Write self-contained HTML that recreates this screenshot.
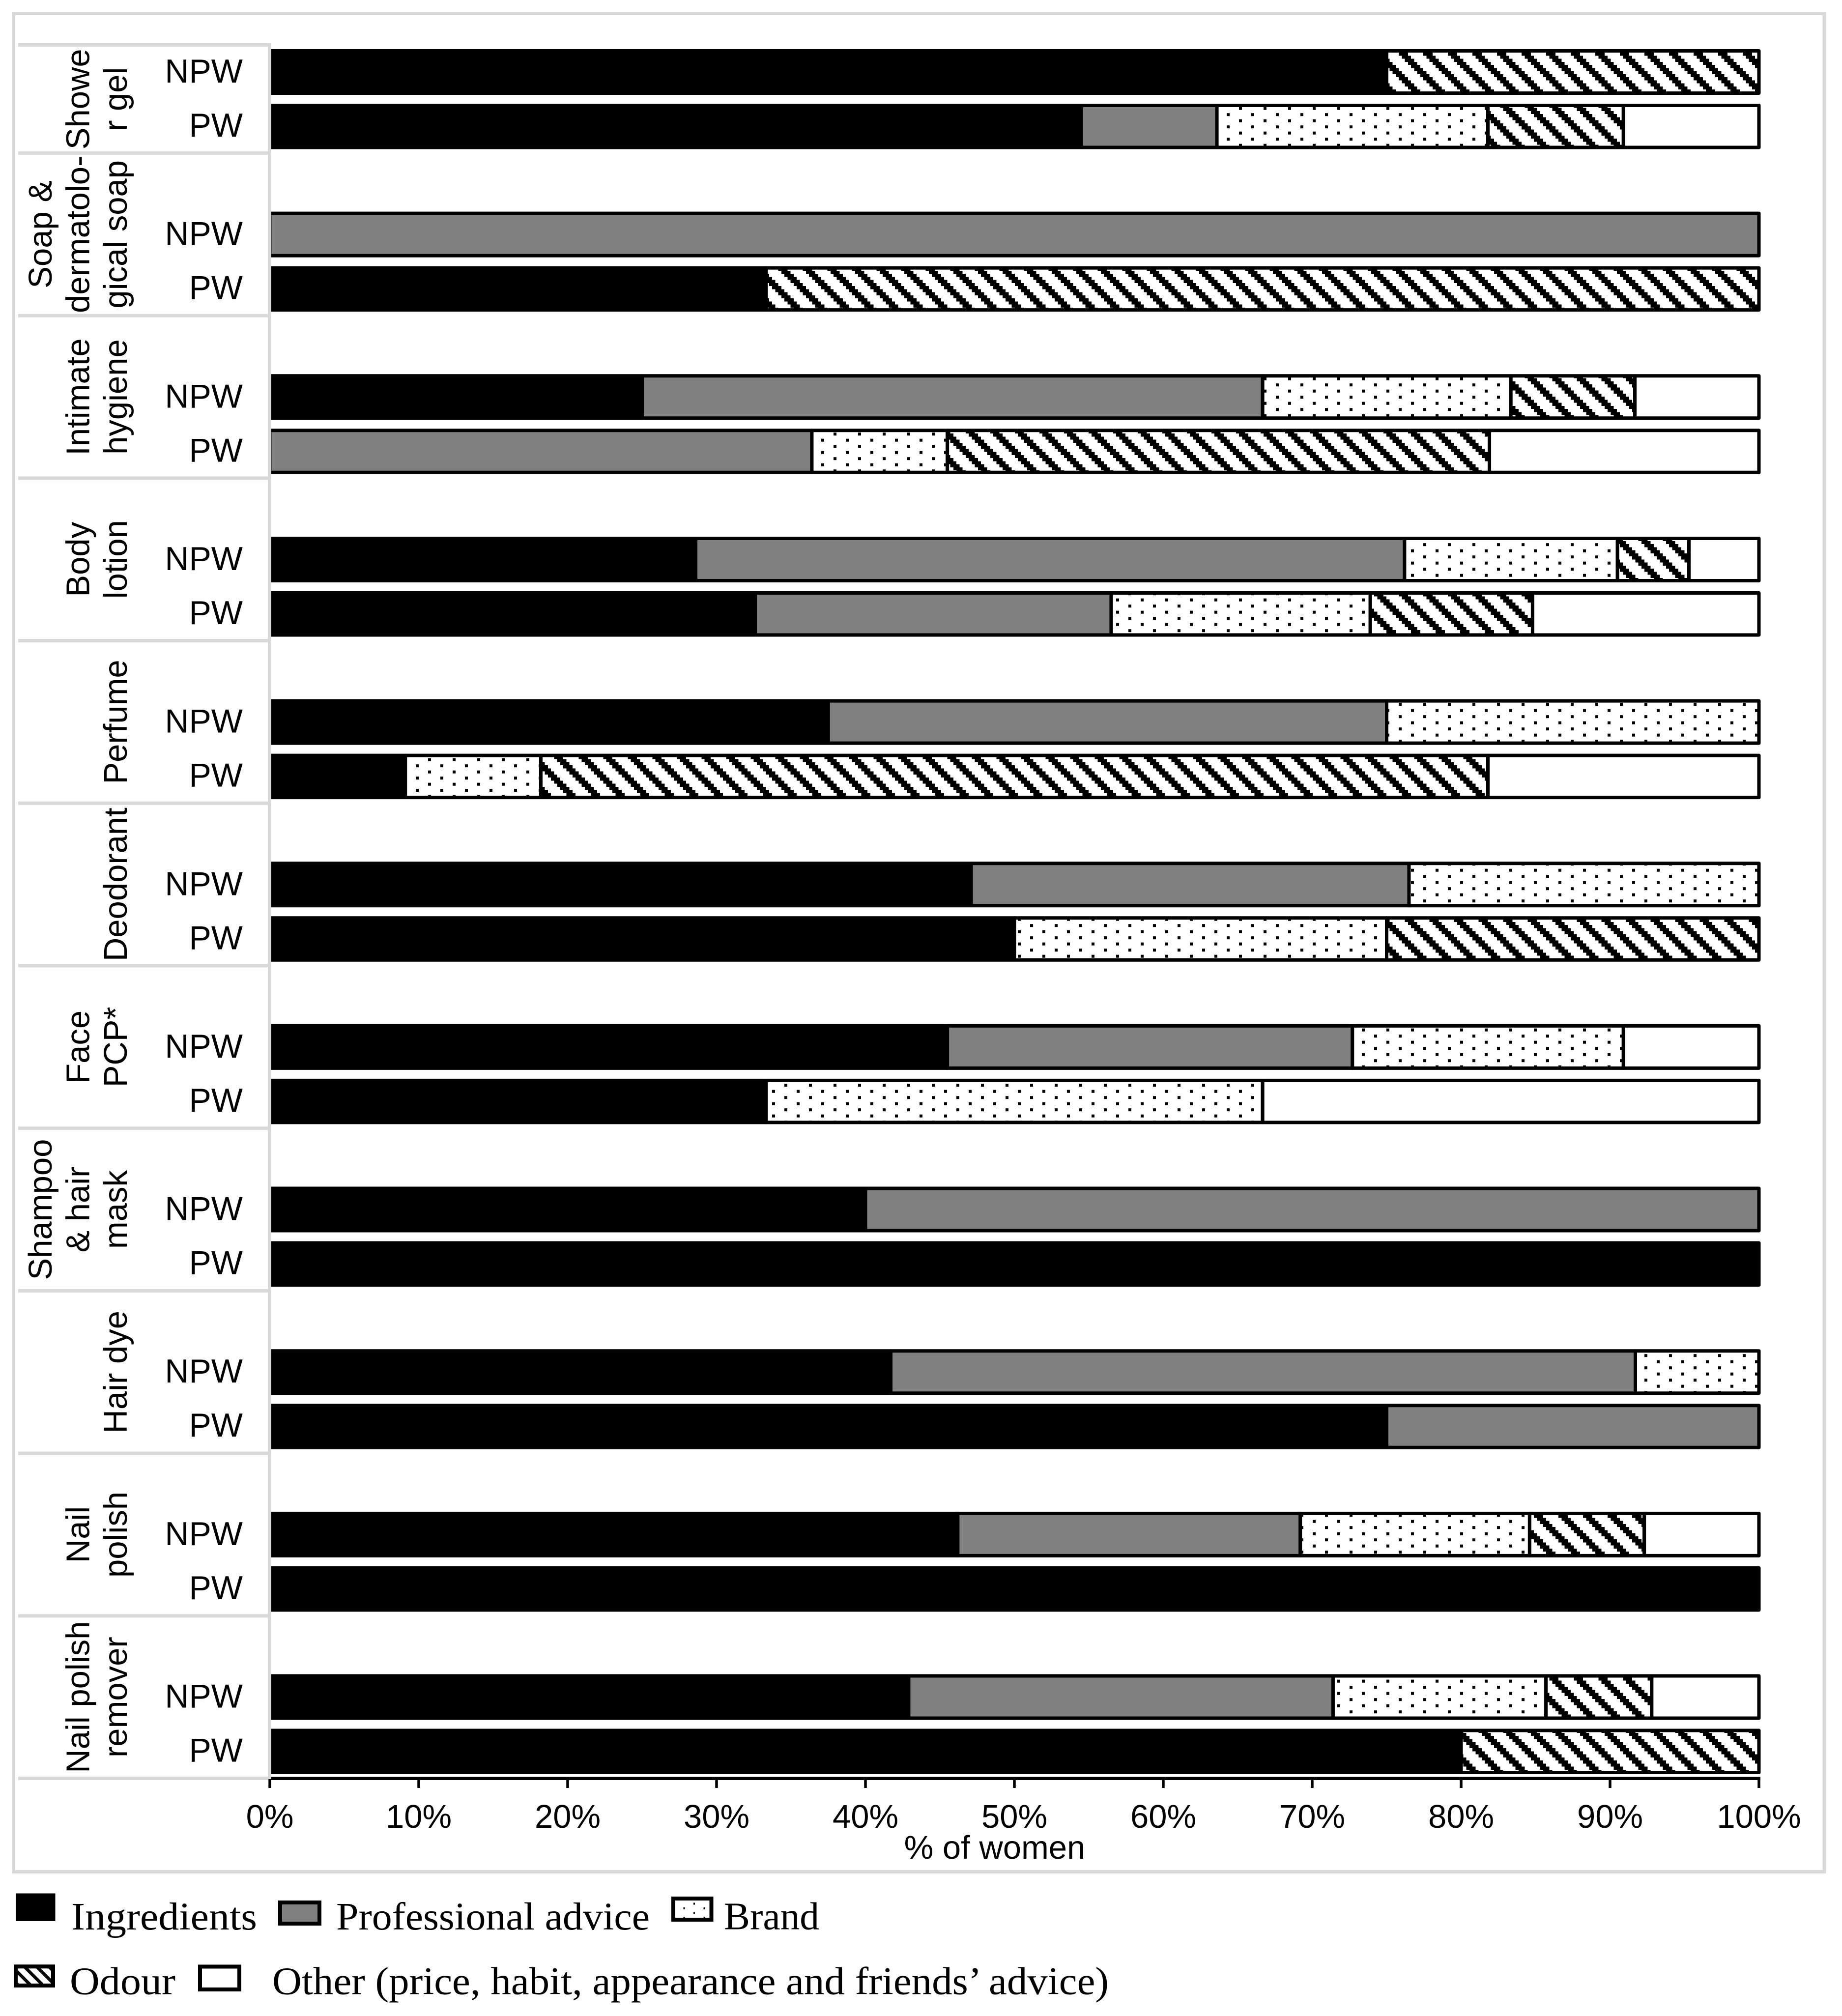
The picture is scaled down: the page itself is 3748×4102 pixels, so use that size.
<!DOCTYPE html>
<html lang="en">
<head>
<meta charset="utf-8">
<title>Purchase criteria by product category</title>
<style>
html,body{margin:0;padding:0;background:#fff;width:3748px;height:4102px;overflow:hidden}
svg{display:block}
.sans{font-family:"Liberation Sans",Arial,sans-serif;font-size:67px;fill:#000}
.group{font-size:68px}
.serif{font-family:"Liberation Serif","Times New Roman",serif;font-size:79px;fill:#000}
</style>
</head>
<body>
<svg id="chart" xmlns="http://www.w3.org/2000/svg" width="3748" height="4102" viewBox="0 0 3748 4102">
  <defs>
    <pattern id="hatch" patternUnits="userSpaceOnUse" width="50" height="50" patternTransform="translate(46 7)">
      <rect width="50" height="50" fill="#fff"/>
      <g fill="#000" shape-rendering="crispEdges">
        <rect x="0" y="0" width="18.75" height="6.25"/>
        <rect x="6.25" y="6.25" width="18.75" height="6.25"/>
        <rect x="12.5" y="12.5" width="18.75" height="6.25"/>
        <rect x="18.75" y="18.75" width="18.75" height="6.25"/>
        <rect x="25" y="25" width="18.75" height="6.25"/>
        <rect x="31.25" y="31.25" width="18.75" height="6.25"/>
        <rect x="37.5" y="37.5" width="12.5" height="6.25"/>
        <rect x="0" y="37.5" width="6.25" height="6.25"/>
        <rect x="43.75" y="43.75" width="6.25" height="6.25"/>
        <rect x="0" y="43.75" width="12.5" height="6.25"/>
      </g>
    </pattern>
    <pattern id="dots" patternUnits="userSpaceOnUse" width="50" height="25" patternTransform="translate(21 17.7)">
      <rect width="50" height="25" fill="#fff"/>
      <rect x="0" y="0" width="6" height="6" fill="#000"/>
      <rect x="25" y="12.5" width="6" height="6" fill="#000"/>
    </pattern>
    <pattern id="hatch-small" patternUnits="userSpaceOnUse" width="25" height="25" patternTransform="translate(53 4005)">
      <rect width="25" height="25" fill="#fff"/>
      <path d="M-5 -5 L30 30 M-5 20 L5 30 M20 -5 L30 5" stroke="#000" stroke-width="6.5" fill="none"/>
    </pattern>
    <pattern id="dots-small" patternUnits="userSpaceOnUse" width="41" height="19" patternTransform="translate(1390.5 3881)">
      <rect width="41" height="19" fill="#fff"/>
      <rect x="0" y="0" width="3" height="4" fill="#000"/>
      <rect x="20.5" y="9.5" width="3" height="4" fill="#000"/>
    </pattern>
  </defs>

  <rect x="27.5" y="27.5" width="3684.5" height="3781" fill="#fff" stroke="#d9d9d9" stroke-width="7"/>

  <g id="bars"></g>
  <g id="axis-y"></g>
  <g id="axis-x"></g>

  <text class="sans" x="2024" y="3782" text-anchor="middle">% of women</text>

  <g>
    <g>
      <rect x="32" y="3852.5" width="80.5" height="56.5" fill="#000"/>
      <text class="serif" x="145" y="3926" textLength="378" lengthAdjust="spacingAndGlyphs">Ingredients</text>
    </g>
    <g>
      <rect x="570" y="3871" width="80" height="43" fill="#808080" stroke="#000" stroke-width="8"/>
      <text class="serif" x="684" y="3926" textLength="638" lengthAdjust="spacingAndGlyphs">Professional advice</text>
    </g>
    <g>
      <rect x="1370" y="3863" width="77.5" height="43" fill="url(#dots-small)" stroke="#000" stroke-width="8"/>
      <text class="serif" x="1473" y="3925.5" textLength="194" lengthAdjust="spacingAndGlyphs">Brand</text>
    </g>
    <g>
      <rect x="32" y="4001.3" width="76" height="38.7" fill="url(#hatch-small)" stroke="#000" stroke-width="8"/>
      <text class="serif" x="142" y="4057.5" textLength="215" lengthAdjust="spacingAndGlyphs">Odour</text>
    </g>
    <g>
      <rect x="407" y="4001.5" width="80" height="46.5" fill="#fff" stroke="#000" stroke-width="8"/>
      <text class="serif" x="554" y="4057.5" textLength="1702" lengthAdjust="spacingAndGlyphs">Other (price, habit, appearance and friends’ advice)</text>
    </g>
  </g>
</svg>

<script>
// Category tick labels (wrapped lines, top to bottom of the chart)
const categories = [
  ["Showe", "r gel"],
  ["Soap &", "dermatolo-", "gical soap"],
  ["Intimate", "hygiene"],
  ["Body", "lotion"],
  ["Perfume"],
  ["Deodorant"],
  ["Face", "PCP*"],
  ["Shampoo", "& hair", "mask"],
  ["Hair dye"],
  ["Nail", "polish"],
  ["Nail polish", "remover"]
];
const groups = ["NPW", "PW"];
const xTicks = [0, 10, 20, 30, 40, 50, 60, 70, 80, 90, 100];

// Series values, % of women, one value per category
const ingredientsNPW  = [75, 0, 25, 28.6, 37.5, 47.1, 45.5, 40, 41.7, 46.2, 42.9];
const professionalNPW = [0, 100, 41.67, 47.6, 37.5, 29.4, 27.2, 60, 50, 23, 28.5];
const brandNPW        = [0, 0, 16.67, 14.3, 25, 23.5, 18.2, 0, 8.3, 15.4, 14.3];
const odourNPW        = [25, 0, 8.33, 4.8, 0, 0, 0, 0, 0, 7.7, 7.1];
const otherNPW        = [0, 0, 8.33, 4.7, 0, 0, 9.1, 0, 0, 7.7, 7.2];

const ingredientsPW   = [54.5, 33.33, 0, 32.6, 9.1, 50, 33.33, 100, 75, 100, 80];
const professionalPW  = [9.1, 0, 36.4, 23.9, 0, 0, 0, 0, 25, 0, 0];
const brandPW         = [18.2, 0, 9.1, 17.4, 9.1, 25, 33.34, 0, 0, 0, 0];
const odourPW         = [9.1, 66.67, 36.4, 10.9, 63.6, 25, 0, 0, 0, 0, 20];
const otherPW         = [9.1, 0, 18.1, 15.2, 18.2, 0, 33.33, 0, 0, 0, 0];

const seriesNames = ["ingredients", "professional-advice", "brand", "odour", "other"];
const seriesNPW = [ingredientsNPW, professionalNPW, brandNPW, odourNPW, otherNPW];
const seriesPW  = [ingredientsPW, professionalPW, brandPW, odourPW, otherPW];

const SVGNS = "http://www.w3.org/2000/svg";
const fills = ["#000", "#808080", "url(#dots)", "url(#hatch)", "#fff"];
const barStroke = 7;

function xScale(v) { return 549 + v * 30.3; }
function bandTop(catIndex, groupIndex) {
  return (groupIndex === 0 ? 100 : 211) + catIndex * 330.65;
}
function bandHeight(groupIndex) { return groupIndex === 0 ? 93 : 92.5; }
function catTop(catIndex) { return catIndex === 0 ? 92 : 311.5 + (catIndex - 1) * 330.7; }
function catBottom(catIndex) { return 311.5 + catIndex * 330.7; }

const barsG = document.getElementById("bars");
const axisY = document.getElementById("axis-y");
const axisX = document.getElementById("axis-x");

function drawBar(catIndex, groupIndex, series) {
  const top = bandTop(catIndex, groupIndex) + barStroke / 2;
  const h = bandHeight(groupIndex) - barStroke;
  let cum = 0;
  series.forEach(function (values, s) {
    const v = values[catIndex];
    if (v <= 0) return;
    const el = document.createElementNS(SVGNS, "rect");
    
    
    el.setAttribute("x", xScale(cum));
    el.setAttribute("y", top);
    el.setAttribute("width", xScale(cum + v) - xScale(cum));
    el.setAttribute("height", h);
    el.setAttribute("fill", fills[s]);
    el.setAttribute("stroke", "#000");
    el.setAttribute("stroke-width", barStroke);
    el.setAttribute("stroke-linejoin", "round");
    barsG.appendChild(el);
    cum += v;
  });
}

categories.forEach(function (lines, c) {
  drawBar(c, 0, seriesNPW);
  drawBar(c, 1, seriesPW);
});

// category axis: grey rules
categories.forEach(function (lines, c) {
  const rule = document.createElementNS(SVGNS, "rect");
  
  
  rule.setAttribute("x", 37);
  rule.setAttribute("y", catBottom(c) - 3.5);
  rule.setAttribute("width", 515);
  rule.setAttribute("height", 7);
  rule.setAttribute("fill", "#d9d9d9");
  axisY.appendChild(rule);

  const center = (catTop(c) + catBottom(c)) / 2;
  const lastBaseline = 258;
  lines.forEach(function (line, i) {
    const base = lastBaseline - (lines.length - 1 - i) * 76.5;
    const t = document.createElementNS(SVGNS, "text");
    
    
    t.setAttribute("class", "sans");
    t.setAttribute("text-anchor", "middle");
    t.setAttribute("transform", "translate(" + base + " " + center + ") rotate(-90)");
    t.textContent = line;
    axisY.appendChild(t);
  });

  groups.forEach(function (g, gi) {
    const t = document.createElementNS(SVGNS, "text");
    
    
    t.setAttribute("class", "sans group");
    t.setAttribute("text-anchor", "end");
    t.setAttribute("x", 494);
    t.setAttribute("y", bandTop(c, gi) + (gi === 0 ? 68 : 67));
    t.textContent = g;
    axisY.appendChild(t);
  });
});

const topRule = document.createElementNS(SVGNS, "rect");


topRule.setAttribute("x", 37);
topRule.setAttribute("y", 88);
topRule.setAttribute("width", 515);
topRule.setAttribute("height", 7);
topRule.setAttribute("fill", "#d9d9d9");
axisY.appendChild(topRule);

const yLine = document.createElementNS(SVGNS, "rect");


yLine.setAttribute("x", 545);
yLine.setAttribute("y", 88);
yLine.setAttribute("width", 7);
yLine.setAttribute("height", 3534);
yLine.setAttribute("fill", "#d9d9d9");
axisY.appendChild(yLine);

// value axis
const xLine = document.createElementNS(SVGNS, "rect");


xLine.setAttribute("x", 552);
xLine.setAttribute("y", 3615.5);
xLine.setAttribute("width", 3030);
xLine.setAttribute("height", 6.5);
xLine.setAttribute("fill", "#000");
axisX.appendChild(xLine);

xTicks.forEach(function (v) {
  const tick = document.createElementNS(SVGNS, "rect");
  
  
  tick.setAttribute("x", xScale(v) - 2.75);
  tick.setAttribute("y", 3620);
  tick.setAttribute("width", 5.5);
  tick.setAttribute("height", 18);
  tick.setAttribute("fill", "#000");
  axisX.appendChild(tick);

  const label = document.createElementNS(SVGNS, "text");
  
  
  label.setAttribute("class", "sans");
  label.setAttribute("text-anchor", "middle");
  label.setAttribute("x", xScale(v));
  label.setAttribute("y", 3719);
  label.textContent = v + "%";
  axisX.appendChild(label);
});
</script>
</body>
</html>
